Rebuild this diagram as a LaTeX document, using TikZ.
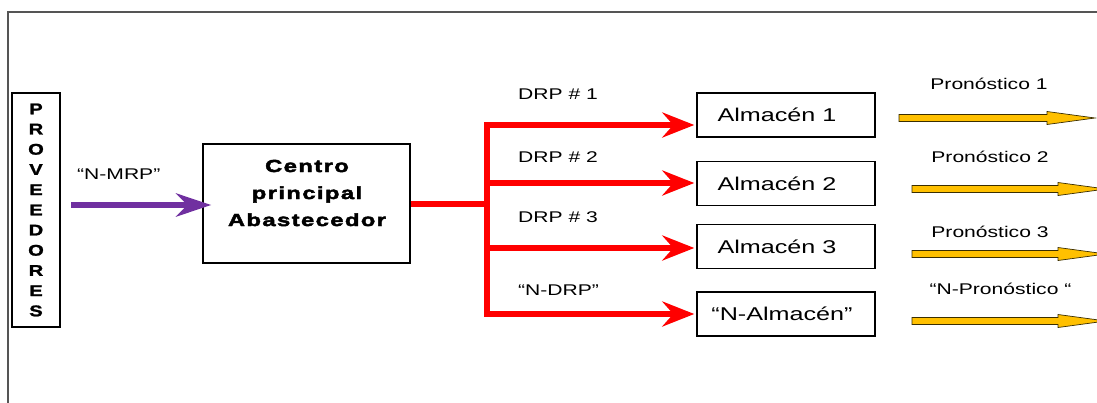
\documentclass[tikz,border=0pt]{standalone}
\usepackage{fontspec}
\setmainfont{Liberation Sans}[FakeStretch=1.36]
\newfontfamily\heavyfont{Liberation Sans}[FakeStretch=1.36,
  BoldFeatures={LetterSpace=8,FakeBold=2.5}]
\newfontfamily\columnfont{Liberation Sans}[FakeStretch=1.3,
  BoldFeatures={FakeBold=1.5}]
\usetikzlibrary{arrows.meta}

\definecolor{framegray}{HTML}{555555}
\definecolor{mrppurple}{HTML}{7030A0}
\definecolor{drpred}{HTML}{FF0000}
\definecolor{fcyellow}{HTML}{FFC000}
\definecolor{fcedge}{HTML}{3A2E00}

\tikzset{
  box/.style={draw=black, line width=1.4pt, inner sep=0pt, fill=white},
  lbl/.style={inner sep=0pt, text height=0.75em, text depth=0.2em,
              font=\fontsize{15.5}{18}\selectfont},
  storetext/.style={font=\fontsize{18.5}{22}\selectfont},
  drpline/.style={draw=drpred, line width=6pt,
                  -{Stealth[length=32pt,width=25pt,inset=11pt]}, shorten >=2pt},
  mrpline/.style={draw=mrppurple, line width=6pt,
                  -{Stealth[length=35pt,width=23pt,inset=11pt]}},
  fcarrow/.style={fill=fcyellow, draw=fcedge, line width=0.7pt, line join=miter}
}

\begin{document}
\begin{tikzpicture}[x=1pt,y=-1pt]
\useasboundingbox (0,0) rectangle (1097,402);
\clip (0,0) rectangle (1097,402);

% surrounding frame
\draw[framegray, line width=2pt] (8,405) -- (8,11.5) -- (1105,11.5);

% suppliers column
\node[box, minimum width=48pt, minimum height=234pt, align=center,
      font=\columnfont\bfseries\fontsize{15.5}{20.2}\selectfont] (prov) at (36,210)
  {P\\R\\O\\V\\E\\E\\D\\O\\R\\E\\S};

% main supply centre
\node[box, minimum width=207pt, minimum height=119pt] (cp) at (306.5,203.5) {};
\node[inner sep=0pt, align=center, font=\heavyfont\bfseries\fontsize{17.5}{27}\selectfont]
  (cptext) at (307,193) {Centro\\principal\\Abastecedor};

% warehouses (labels sit a little left of centre)
\node[box, storetext, minimum width=178pt, minimum height=44pt] (a1) at (786,115)
  {Almacén 1\kern18pt};
\node[box, storetext, minimum width=178pt, minimum height=44pt] (a2) at (786,183.5)
  {Almacén 2\kern18pt};
\node[box, storetext, minimum width=178pt, minimum height=44pt] (a3) at (786,246.5)
  {Almacén 3\kern18pt};
\node[box, storetext, minimum width=178pt, minimum height=44pt] (a4) at (786,314)
  {“N-Almacén”\kern8pt};

% MRP flow into the centre
\coordinate (mrpstart) at (71,205);
\draw[mrpline, shorten >=-9pt] (mrpstart) -- (cp.west |- mrpstart);
\node[lbl, anchor=west] (mrplbl) at (77,177) {“N-MRP”};

% DRP distribution tree
\coordinate (jtop) at (487,122);
\coordinate (jbot) at (487,317);
\coordinate (j1) at (487,125);
\coordinate (j2) at (487,183);
\coordinate (j3) at (487,248);
\coordinate (j4) at (487,314);
\draw[drpred, line width=6pt] (cp.east) -- (cp.east -| jtop);
\draw[drpred, line width=6pt] (jtop) -- (jbot);
\draw[drpline] (j1) -- (a1.west |- j1);
\draw[drpline] (j2) -- (a2.west |- j2);
\draw[drpline] (j3) -- (a3.west |- j3);
\draw[drpline] (j4) -- (a4.west |- j4);

\node[lbl, anchor=west] (drp1) at (518,97) {DRP \# 1};
\node[lbl, anchor=west] (drp2) at (518,160) {DRP \# 2};
\node[lbl, anchor=west] (drp3) at (518,220) {DRP \# 3};
\node[lbl, anchor=west] (drpn) at (518,293) {“N-DRP”};

% forecast arrows
\foreach \yy/\xs/\xh/\xt in {118/899/1047/1095, 189/912/1058/1106,
                             254/912/1058/1106, 321/912/1058/1106}{
  \filldraw[fcarrow] (\xs,\yy-3.5) -- (\xh,\yy-3.5) -- (\xh,\yy-6.5) -- (\xt,\yy)
    -- (\xh,\yy+6.5) -- (\xh,\yy+3.5) -- (\xs,\yy+3.5) -- cycle;
}
\node[lbl] (fc1) at (989,87) {Pronóstico 1};
\node[lbl] (fc2) at (990,160) {Pronóstico 2};
\node[lbl] (fc3) at (990,235) {Pronóstico 3};
\node[lbl] (fcn) at (1000.5,292) {“N-Pronóstico “};
\end{tikzpicture}
\end{document}
